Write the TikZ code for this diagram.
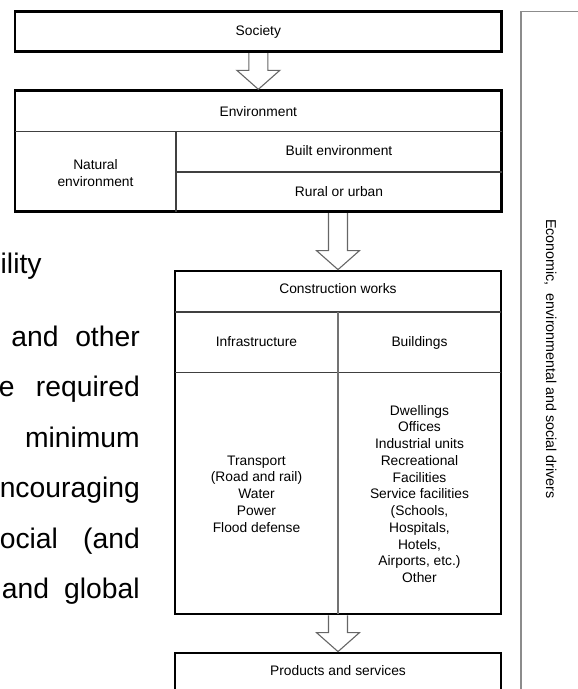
\documentclass[tikz,border=0pt]{standalone}
\usepackage{fontspec}
\setmainfont{Liberation Sans}
\usetikzlibrary{calc}

\tikzset{
  bigbox/.style={draw=black, line width=2.8pt, rectangle, inner sep=0pt},
  sidebox/.style={draw=black!45, line width=1.1pt, rectangle, inner sep=0pt},
  cellrule/.style={draw=black!75, line width=1.1pt},
  lbl/.style={font=\fontsize{13.8}{16.75}\selectfont, align=center, inner sep=0pt,
              text height=10pt, text depth=3pt},
  listlbl/.style={font=\fontsize{13.8}{16.75}\selectfont, align=center, inner sep=0pt},
  sidelbl/.style={font=\fontsize{14.3}{17}\selectfont, inner sep=0pt, rotate=-90},
  blockarrow/.style={draw=black!60, line width=1.1pt, line join=miter},
  prose/.style={font=\fontsize{28.3}{34}\selectfont, inner sep=0pt, anchor=base east},
}

% hollow block arrow: #1 = start of the shaft, #2 = tip
\newcommand\hollowarrow[2]{%
  \path (#1) coordinate (ha-s) (#2) coordinate (ha-t);
  \draw[blockarrow] ($(ha-s)+(-9.5,0)$) -- ($(ha-t)+(-9.5,-19)$)
    -- ($(ha-t)+(-21.5,-19)$) -- (ha-t) -- ($(ha-t)+(21.5,-19)$)
    -- ($(ha-t)+(9.5,-19)$) -- ($(ha-s)+(9.5,0)$);
}

\begin{document}
\begin{tikzpicture}[x=1pt,y=-1pt]
\useasboundingbox (0,0) rectangle (578,689);
\clip (0,0) rectangle (578,689);

% running text at the left margin
\node[prose, anchor=base west] (p1) at (0.5,273) {ility};
\node[prose] (p2) at (140,346) {\makebox[128.3pt][s]{and other}};
\node[prose] (p3) at (140,396.5) {\makebox[141pt][s]{e required}};
\node[prose] (p4) at (140,447) {minimum};
\node[prose] (p5) at (140,497.5) {ncouraging};
\node[prose] (p6) at (140,548) {\makebox[140pt][s]{ocial (and}};
\node[prose] (p7) at (140,598.4) {\makebox[138pt][s]{and global}};

% frame for the drivers
\node[sidebox, minimum width=120pt, minimum height=720pt] (side) at (581,371.7) {};
\node[sidelbl] (drv) at (550.5,359) {Economic,\hspace{0.55em}environmental and social drivers};

% Society
\node[bigbox, minimum width=486.7pt, minimum height=40pt] (soc) at (258.35,31.7) {};
\node[lbl] (soclbl) at (soc.center) {Society};

% Environment
\node[bigbox, minimum width=486.7pt, minimum height=121pt] (env) at (258.35,151.2) {};
\draw[cellrule] (15,131.5) -- (501.7,131.5);
\draw[cellrule] (176,131.5) -- (176,211.7);
\draw[cellrule] (176,172) -- (501.7,172);
\node[lbl] (envlbl) at (258.35,113) {Environment};
\node[listlbl] (natlbl) at (95.5,173) {Natural\\environment};
\node[lbl] (builtlbl) at (339,152.3) {Built environment};
\node[lbl] (rurlbl) at (339,192.7) {Rural or urban};

% Construction works
\node[bigbox, minimum width=326pt, minimum height=343pt] (cw) at (338,442.5) {};
\draw[cellrule] (175,312) -- (501,312);
\draw[cellrule] (175,372.7) -- (501,372.7);
\draw[cellrule, draw=black!55] (338,312) -- (338,614);
\node[lbl] (cwlbl) at (338,290) {Construction works};
\node[lbl] (infra) at (256.5,342.5) {Infrastructure};
\node[lbl] (bldg) at (419.5,342.5) {Buildings};
\node[listlbl] (infralist) at (256.5,494) {Transport\\(Road and rail)\\Water\\Power\\Flood defense};
\node[listlbl] (bldglist) at (419.5,494) {Dwellings\\Offices\\Industrial units\\Recreational\\Facilities\\Service facilities\\(Schools,\\Hospitals,\\Hotels,\\Airports, etc.)\\Other};

% Products and services
\node[bigbox, minimum width=326pt, minimum height=80pt] (ps) at (338,693) {};
\node[lbl] (pslbl) at (338,671.7) {Products and services};

% flow arrows
\hollowarrow{soc.south}{env.north}
\hollowarrow{env.south -| cw.north}{cw.north}
\hollowarrow{cw.south}{ps.north}
\end{tikzpicture}
\end{document}
